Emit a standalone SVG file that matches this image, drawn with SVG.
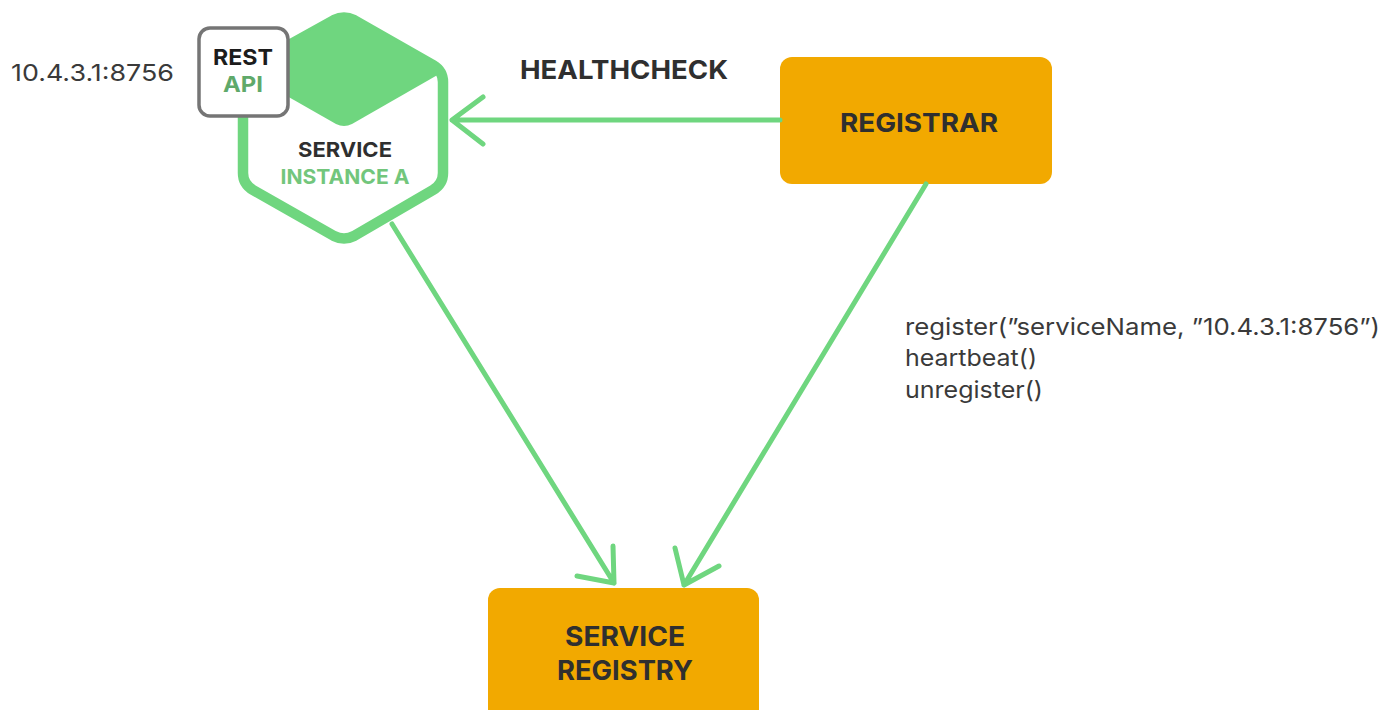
<svg xmlns="http://www.w3.org/2000/svg" width="1383" height="710" viewBox="0 0 1383 710">
<style>
text{font-family:Inter,"Liberation Sans",sans-serif}
.b{font-weight:700;fill:#2f2f2f}
.g{font-weight:700;fill:#72c67c}
.r{font-weight:400;fill:#3a3a3a;font-size:23.5px}
.box{fill:#f2a900}
.c{fill:none;stroke:#6fd67f;stroke-width:5;stroke-linecap:round;stroke-linejoin:round}
</style>
<rect width="1383" height="710" fill="#fff"/>
<g id="service-instance-a">
<path d="M334 20 Q344 15 354 20 L433 65 Q443 71 443 82 V173 Q443 184 433 190 L354 236 Q344 241 334 236 L253 190 Q243 184 243 173 V82 Q243 71 253 65 Z" fill="#fff" stroke="#6fd67f" stroke-width="10.5" stroke-linejoin="round"/>
<path d="M334 17 Q344 12 354 17 L436 64 L441 73 L352 124 Q344 128 336 124 L250 75 L252 64 Z" fill="#6fd67f"/>
<text class="b" x="345" y="157" font-size="20.5" text-anchor="middle" textLength="94" lengthAdjust="spacingAndGlyphs">SERVICE</text>
<text class="g" x="345" y="184" font-size="20.5" text-anchor="middle" textLength="129" lengthAdjust="spacingAndGlyphs">INSTANCE A</text>
</g>
<g id="rest-api">
<rect x="199" y="28" width="89" height="88" rx="11" fill="#fff" stroke="#757575" stroke-width="3.5"/>
<text x="243" y="65" font-size="22" font-weight="700" fill="#1c1c1c" text-anchor="middle" textLength="60" lengthAdjust="spacingAndGlyphs">REST</text>
<text x="243" y="92" font-size="22" font-weight="700" fill="#5fa96a" text-anchor="middle" textLength="40" lengthAdjust="spacingAndGlyphs">API</text>
</g>
<g id="registrar">
<rect class="box" x="780" y="57" width="272" height="127" rx="12"/>
<text class="b" x="919" y="132" font-size="26" text-anchor="middle" textLength="158" lengthAdjust="spacingAndGlyphs">REGISTRAR</text>
</g>
<g id="service-registry">
<rect class="box" x="488" y="588" width="271" height="134" rx="12"/>
<text class="b" x="625" y="646" font-size="27" text-anchor="middle" textLength="120" lengthAdjust="spacingAndGlyphs">SERVICE</text>
<text class="b" x="625" y="680" font-size="27" text-anchor="middle" textLength="136" lengthAdjust="spacingAndGlyphs">REGISTRY</text>
</g>
<g id="connectors">
<path class="c" d="M780 120 H452 M483 97 L452 120 L483 144"/>
<path class="c" d="M392 224 L614 583 M613 546 L614 583 L577 576"/>
<path class="c" d="M926 184 L684 585 M675 548 L684 585 L719 566"/>
</g>
<g id="labels">
<text x="11" y="81" font-size="23.5" font-weight="400" fill="#3a3a3a" textLength="163" lengthAdjust="spacingAndGlyphs">10.4.3.1:8756</text>
<text class="b" x="520" y="79" font-size="26" textLength="208" lengthAdjust="spacingAndGlyphs">HEALTHCHECK</text>
<text class="r" x="905" y="335" textLength="475" lengthAdjust="spacingAndGlyphs">register(”serviceName, ”10.4.3.1:8756”)</text>
<text class="r" x="905" y="366" textLength="132" lengthAdjust="spacingAndGlyphs">heartbeat()</text>
<text class="r" x="905" y="398" textLength="138" lengthAdjust="spacingAndGlyphs">unregister()</text>
</g>
</svg>
